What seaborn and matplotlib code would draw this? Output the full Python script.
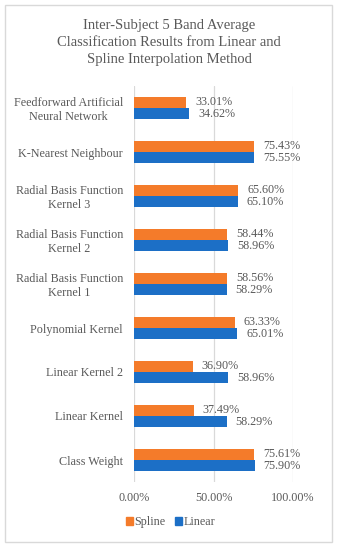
import pandas as pd
import matplotlib
matplotlib.use('Agg')
import matplotlib.pyplot as plt
import seaborn as sb
from matplotlib.patches import Rectangle, Patch

# data, top to bottom as shown
methods = ['Feedforward Artificial\nNeural Network', 'K-Nearest Neighbour',
           'Radial Basis Function\nKernel 3', 'Radial Basis Function\nKernel 2',
           'Radial Basis Function\nKernel 1', 'Polynomial Kernel',
           'Linear Kernel 2', 'Linear Kernel', 'Class Weight']
spline = [33.01, 75.43, 65.60, 58.44, 58.56, 63.33, 36.90, 37.49, 75.61]
linear = [34.62, 75.55, 65.10, 58.96, 58.29, 65.01, 58.96, 58.29, 75.90]
series = ['Spline', 'Linear']
x_ticks = [0, 50, 100]

df = pd.DataFrame({'method': methods * 2,
                   'value': spline + linear,
                   'series': ['Spline'] * len(methods) + ['Linear'] * len(methods)})

sb.set_style('white')
plt.rcParams['font.family'] = ['Liberation Serif', 'DejaVu Serif']
txt = '#595959'
colors = {'Spline': '#F47B2A', 'Linear': '#1C6FC6'}

fig = plt.figure(figsize=(3.38, 5.5), dpi=100)
ax = fig.add_axes([134/338, 1-482/550, 159/338, 396/550])

sb.barplot(data=df, y='method', x='value', hue='series', hue_order=series,
           palette=colors, width=0.52, orient='h', ax=ax, legend=False,
           saturation=1, linewidth=0)

ax.set_xlim(0, 100)
ax.set_xticks(x_ticks)
ax.set_xticklabels([f'{t:.2f}%' for t in x_ticks])
ax.tick_params(axis='x', length=0, pad=7, labelsize=8.7, labelcolor=txt)
ax.tick_params(axis='y', length=0, pad=8, labelsize=8.7, labelcolor=txt)
for lab in ax.get_yticklabels():
    lab.set_multialignment('center')
ax.set_xlabel('')
ax.set_ylabel('')
ax.grid(axis='x', color='#D9D9D9', linewidth=0.9)
ax.set_axisbelow(True)
for s in ax.spines.values():
    s.set_visible(False)

for cont, vals in zip(ax.containers, [spline, linear]):
    ax.bar_label(cont, labels=[f'{v:.2f}%' for v in vals], padding=6.5,
                 fontsize=8.7, color=txt)

fig.text(0.5, 1 - 43/550,
         'Inter-Subject 5 Band Average\nClassification Results from Linear and\nSpline Interpolation Method',
         ha='center', va='center', fontsize=10.5, color=txt, linespacing=1.4)

handles = [Patch(color=colors[s], label=s) for s in series]
fig.legend(handles=handles, loc='center', bbox_to_anchor=(0.505, 1 - 522/550),
           ncol=2, frameon=False, fontsize=8.7, handlelength=0.6,
           handleheight=0.6, handletextpad=0.15, columnspacing=0.75,
           labelcolor=txt)

fig.patches.append(Rectangle((5/338, 1-542/550), 327/338, 537/550,
                             transform=fig.transFigure, fill=False,
                             edgecolor='#D9D9D9', linewidth=1))

fig.savefig('out.png', dpi=100, facecolor='white')
